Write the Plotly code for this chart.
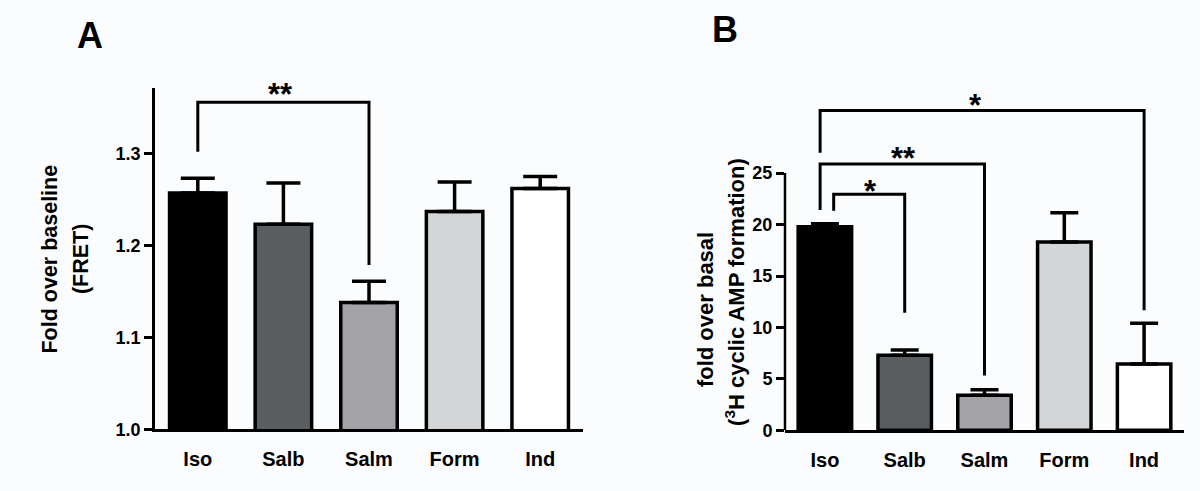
import plotly.graph_objects as go

# ---------------- data ----------------
categories = ["Iso", "Salb", "Salm", "Form", "Ind"]
fret_mean = [1.257, 1.223, 1.138, 1.237, 1.262]
fret_sem = [0.016, 0.045, 0.023, 0.032, 0.013]
camp_mean = [19.8, 7.3, 3.4, 18.3, 6.45]
camp_sem = [0.27, 0.52, 0.55, 2.85, 3.95]
a_ticks = [1.0, 1.1, 1.2, 1.3]
a_ticktext = ["1.0", "1.1", "1.2", "1.3"]
b_ticks = [0, 5, 10, 15, 20, 25]

# significance brackets: left x, right x, bar level, left leg end, right leg end, label, label x
a_brackets = [(0.0, 2.0, 1.3556, 1.3018, 1.1786, "**", 0.97)]
b_brackets = [
    (-0.06, 4.0, 31.09, 26.97, 11.67, "*", 1.89),
    (-0.06, 2.0, 25.89, 21.42, 5.33, "**", 0.99),
    (0.11, 1.0, 22.94, 21.35, 11.42, "*", 0.57),
]

# ---------------- style ----------------
bar_colors = ["#000000", "#5b5e60", "#a3a3a7", "#d3d5d6", "#ffffff"]
BG = "#fbfcfd"
FONT = "Liberation Sans, Arial, sans-serif"
W, H = 1200, 491


def px(x):
    return x / W


def py(y):
    return 1 - y / H


fig = go.Figure()

fig.add_trace(go.Bar(
    x=categories, y=fret_mean, xaxis="x", yaxis="y", width=0.66,
    marker=dict(color=bar_colors, line=dict(color="black", width=3.5)),
    error_y=dict(type="data", array=fret_sem, arrayminus=[0] * len(fret_sem),
                 symmetric=False, color="black", thickness=3.5, width=17),
    showlegend=False, hoverinfo="skip"))

fig.add_trace(go.Bar(
    x=categories, y=camp_mean, xaxis="x2", yaxis="y2", width=0.67,
    marker=dict(color=bar_colors, line=dict(color="black", width=3.5)),
    error_y=dict(type="data", array=camp_sem, arrayminus=[0] * len(camp_sem),
                 symmetric=False, color="black", thickness=3.5, width=14),
    showlegend=False, hoverinfo="skip"))

xcommon = dict(showline=True, linecolor="black", linewidth=2.5, ticks="outside",
               ticklen=10, tickcolor="rgba(0,0,0,0)", showgrid=False, zeroline=False,
               tickfont=dict(family=FONT, size=20, color="black", weight="bold"),
               range=[-0.5, 4.5], fixedrange=True)
ycommon = dict(showgrid=False, zeroline=False, ticks="outside", ticklen=8,
               tickwidth=2.5, tickcolor="black",
               tickfont=dict(family=FONT, size=18, color="black", weight="bold"),
               fixedrange=True)

fig.update_layout(
    width=W, height=H, margin=dict(l=0, r=0, t=0, b=0),
    paper_bgcolor=BG, plot_bgcolor=BG,
    font=dict(family=FONT, color="black"),
    xaxis=dict(domain=[px(155), px(583)], anchor="y", **xcommon),
    yaxis=dict(domain=[py(438.3), py(90)], anchor="x", range=[1.0, 1.371],
               tickvals=a_ticks, ticktext=a_ticktext, showline=True,
               linecolor="black", linewidth=2.5, **ycommon),
    xaxis2=dict(domain=[px(785), px(1184)], anchor="y2", **xcommon),
    yaxis2=dict(domain=[py(439.3), py(103.2)], anchor="x2", range=[0, 32],
                tickvals=b_ticks, showline=False, **ycommon),
)

shapes = []
# panel B y-axis line only up to 25
shapes.append(dict(type="line", xref="x2 domain", yref="y2", x0=0, x1=0,
                   y0=0, y1=b_ticks[-1], line=dict(color="black", width=2.5)))


def bracket(xr, yr, b):
    xl, xrgt, ytop, yl, yrr, _, _ = b
    path = f"M {xl},{yl} L {xl},{ytop} L {xrgt},{ytop} L {xrgt},{yrr}"
    return dict(type="path", xref=xr, yref=yr, path=path,
                line=dict(color="black", width=3), fillcolor="rgba(0,0,0,0)")


for b in a_brackets:
    shapes.append(bracket("x", "y", b))
for b in b_brackets:
    shapes.append(bracket("x2", "y2", b))

annotations = []
star_shift_a = [8]
star_shift_b = [5, 5, 3]
STAR = dict(family=FONT, size=31, color="black", weight="bold")
for b, s in zip(a_brackets, star_shift_a):
    annotations.append(dict(x=b[6], y=b[2], xref="x", yref="y", text=b[5],
                            showarrow=False, yanchor="middle", yshift=s, font=STAR))
for b, s in zip(b_brackets, star_shift_b):
    annotations.append(dict(x=b[6], y=b[2], xref="x2", yref="y2", text=b[5],
                            showarrow=False, yanchor="middle", yshift=s, font=STAR))

# panel letters
annotations.append(dict(x=px(89.5), y=py(36), xref="paper", yref="paper", text="A",
                        showarrow=False, xanchor="center", yanchor="middle",
                        font=dict(family=FONT, size=36, color="black", weight="bold")))
annotations.append(dict(x=px(725), y=py(30), xref="paper", yref="paper", text="B",
                        showarrow=False, xanchor="center", yanchor="middle",
                        font=dict(family=FONT, size=36, color="black", weight="bold")))


# y titles
def ytitle(text, x, y, size):
    return dict(x=px(x), y=py(y), xref="paper", yref="paper", text=text,
                showarrow=False, textangle=-90, xanchor="center", yanchor="middle",
                font=dict(family=FONT, size=size, color="black", weight="bold"))


annotations.append(ytitle("Fold over baseline", 50, 265, 21.5))
annotations.append(ytitle("(FRET)", 80.5, 265, 21.5))
annotations.append(ytitle("fold over basal", 705.5, 316, 22))
annotations.append(ytitle("(<sup>3</sup>H cyclic AMP formation)", 735, 298, 22))

fig.update_layout(shapes=shapes, annotations=annotations)

fig.write_html("out.html", post_script="document.body.style.margin='0';",
               config={"displayModeBar": False})
